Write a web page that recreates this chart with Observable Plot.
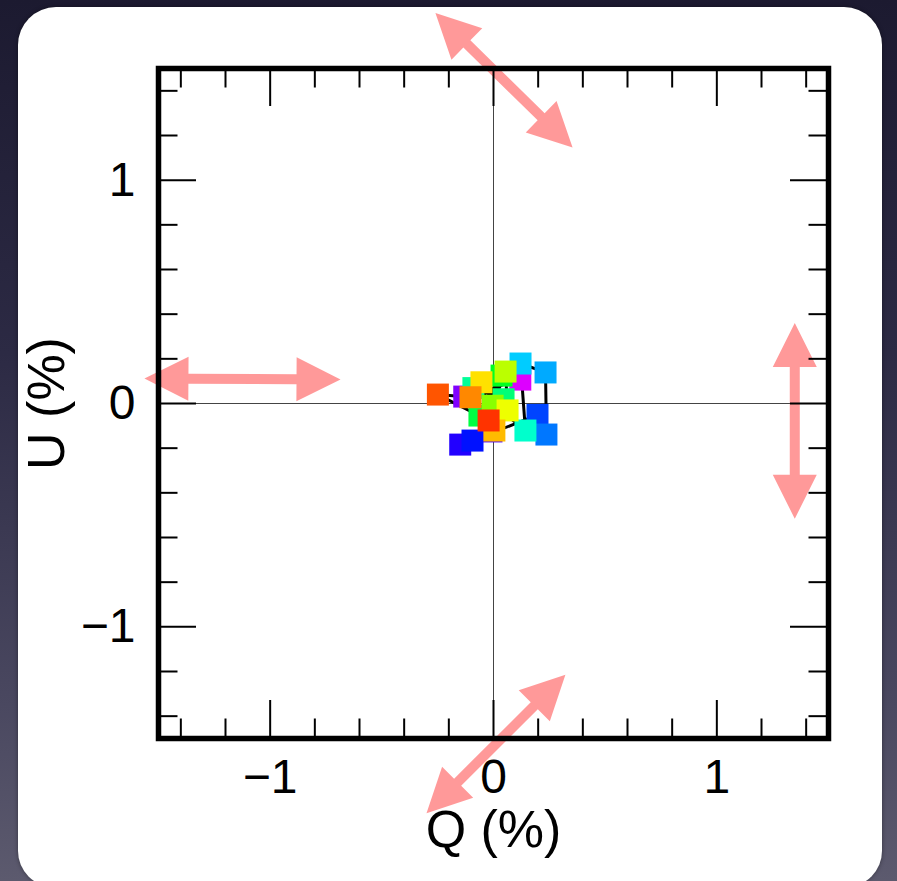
<!DOCTYPE html>
<html>
<head>
<meta charset="utf-8">
<script src="https://cdn.jsdelivr.net/npm/d3@7"></script>
<script src="https://cdn.jsdelivr.net/npm/@observablehq/plot@0.6"></script>
<style>
  html, body { margin: 0; padding: 0; }
  body {
    width: 897px; height: 881px; overflow: hidden; position: relative;
    background: linear-gradient(180deg, #1c1a30 0%, #2c2a44 40%, #4a4860 80%, #5c5a6e 100%);
    font-family: "Liberation Sans", Arial, Helvetica, sans-serif;
  }
  #panel {
    position: absolute; left: 18px; top: 7px; width: 864px; height: 880px;
    background: #ffffff; border-radius: 38px 38px 36px 36px;
    box-shadow: 0 0 4px rgba(0,0,0,0.4);
  }
  #chart { position: absolute; left: 0; top: 0; }
</style>
</head>
<body>
<div id="panel"></div>
<div id="chart"></div>
<script>
// Stokes parameters (Q, U in %) for each observation, ordered as plotted
const Q   = [0.120, -0.131, -0.009, -0.149, -0.094, 0.197, 0.237, 0.233, 0.121, 0.143, -0.090, 0.045, -0.063, 0.036, -0.004, 0.054, 0.063, -0.054, 0.004, -0.103, -0.249, -0.022];
const U   = [0.107, 0.031, -0.125, -0.184, -0.166, -0.051, -0.139, 0.139, 0.179, -0.121, 0.069, 0.019, -0.054, 0.125, -0.010, 0.143, -0.031, 0.095, -0.121, 0.028, 0.040, -0.076];
// colour index of each point (hue in degrees of the rainbow colour map)
const hue = [292, 270, 258, 248, 236, 224, 212, 200, 192, 168, 156, 148, 136, 128, 88, 76, 64, 53, 44, 32, 20, 12];

// axis ticks
const tickValues = [-1, 0, 1];
const tickLabels = ["−1", "0", "1"];
const minorTicks = [-1.4, -1.2, -0.8, -0.6, -0.4, -0.2, 0.2, 0.4, 0.6, 0.8, 1.2, 1.4];

// double-headed direction arrows (end points in Q, U units)
const arrowQ1 = [-0.260, -1.563, 1.349, 0.322];
const arrowU1 = [1.748, 0.112, 0.360, -1.214];
const arrowQ2 = [0.354, -0.685, 1.349, -0.300];
const arrowU2 = [1.146, 0.107, -0.516, -1.835];

const points = Q.map((q, i) => ({q, u: U[i], hue: hue[i]}));

// plot geometry
const W = 897, H = 881;
const mL = 158, mR = 69, mT = 68, mB = 143;
const pxPerUnit = (W - mL - mR) / 3;

// build arrow outlines (in data units; both axes share the same pixel scale)
const headLen = 44 / pxPerUnit, headHalf = 22 / pxPerUnit, shaftHalf = 5 / pxPerUnit;
const arrowPts = [];
arrowQ1.forEach((_, k) => {
  const x1 = arrowQ1[k], y1 = arrowU1[k], x2 = arrowQ2[k], y2 = arrowU2[k];
  const L = Math.hypot(x2 - x1, y2 - y1);
  const dx = (x2 - x1) / L, dy = (y2 - y1) / L;
  const nx = -dy, ny = dx;
  const a = [x1 + dx * headLen, y1 + dy * headLen];
  const b = [x2 - dx * headLen, y2 - dy * headLen];
  const poly = [
    [x1, y1],
    [a[0] + nx * headHalf, a[1] + ny * headHalf],
    [a[0] + nx * shaftHalf, a[1] + ny * shaftHalf],
    [b[0] + nx * shaftHalf, b[1] + ny * shaftHalf],
    [b[0] + nx * headHalf, b[1] + ny * headHalf],
    [x2, y2],
    [b[0] - nx * headHalf, b[1] - ny * headHalf],
    [b[0] - nx * shaftHalf, b[1] - ny * shaftHalf],
    [a[0] - nx * shaftHalf, a[1] - ny * shaftHalf],
    [a[0] - nx * headHalf, a[1] - ny * headHalf]
  ];
  poly.forEach(p => arrowPts.push({id: k, x: p[0], y: p[1]}));
});

const minorLen = 19.5 / pxPerUnit;
const majorLen = 38 / pxPerUnit;
const FS = 48;      // tick labels
const FSL = 52;     // axis titles
const fmt = d => tickLabels[tickValues.indexOf(d)];

const chart = Plot.plot({
  width: W, height: H,
  marginLeft: mL, marginRight: mR, marginTop: mT, marginBottom: mB,
  x: {domain: [-1.5, 1.5]},
  y: {domain: [-1.5, 1.5]},
  style: {background: "none", fontFamily: "'Liberation Sans', Arial, Helvetica, sans-serif", color: "black", overflow: "visible"},
  marks: [
    Plot.line(arrowPts, {x: "x", y: "y", z: "id", curve: "linear-closed", fill: "#ff8080", fillOpacity: 0.8, stroke: "none"}),
    Plot.ruleX([0], {stroke: "#444", strokeWidth: 1}),
    Plot.ruleY([0], {stroke: "#444", strokeWidth: 1}),
    Plot.line(points, {x: "q", y: "u", stroke: "black", strokeWidth: 3}),
    Plot.dot(points, {x: "q", y: "u", symbol: "square", r: 12.41, fill: d => d3.hsl(d.hue, 1, 0.5).formatHex(), stroke: "none"}),
    // minor ticks (inward on all four sides)
    Plot.ruleX(minorTicks, {x: d => d, y1: -1.5, y2: -1.5 + minorLen, stroke: "black", strokeWidth: 2}),
    Plot.ruleX(minorTicks, {x: d => d, y1: 1.5, y2: 1.5 - minorLen, stroke: "black", strokeWidth: 2}),
    Plot.ruleY(minorTicks, {y: d => d, x1: -1.5, x2: -1.5 + minorLen, stroke: "black", strokeWidth: 2}),
    Plot.ruleY(minorTicks, {y: d => d, x1: 1.5, x2: 1.5 - minorLen, stroke: "black", strokeWidth: 2}),
    // major ticks
    Plot.ruleX(tickValues, {x: d => d, y1: -1.5, y2: -1.5 + majorLen, stroke: "black", strokeWidth: 2}),
    Plot.ruleX(tickValues, {x: d => d, y1: 1.5, y2: 1.5 - majorLen, stroke: "black", strokeWidth: 2}),
    Plot.ruleY(tickValues, {y: d => d, x1: -1.5, x2: -1.5 + majorLen, stroke: "black", strokeWidth: 2}),
    Plot.ruleY(tickValues, {y: d => d, x1: 1.5, x2: 1.5 - majorLen, stroke: "black", strokeWidth: 2}),
    Plot.frame({stroke: "black", strokeWidth: 5.5}),
    Plot.axisX({anchor: "bottom", ticks: tickValues, tickFormat: fmt, tickSize: 0, tickPadding: 20, fontSize: FS, label: null}),
    Plot.axisY({anchor: "left", ticks: tickValues, tickFormat: fmt, tickSize: 0, tickPadding: 23, fontSize: FS, label: null}),
    Plot.text(["Q (%)"], {x: 0, y: (403 - 810) / pxPerUnit, text: d => d, lineAnchor: "top", textAnchor: "middle", fontSize: FSL, fill: "black"}),
    Plot.text(["U (%)"], {x: (47 - 493) / pxPerUnit, y: 0, text: d => d, rotate: -90, lineAnchor: "middle", textAnchor: "middle", fontSize: FSL, fill: "black"})
  ]
});
document.getElementById("chart").appendChild(chart);
</script>
</body>
</html>
